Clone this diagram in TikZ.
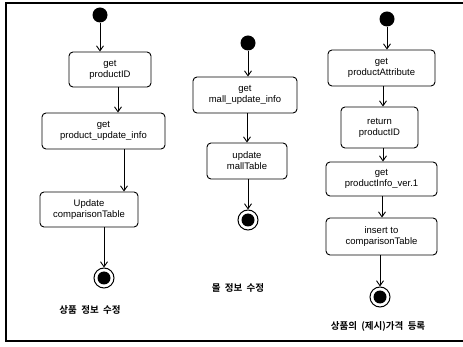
\documentclass[tikz,border=0pt]{standalone}
\usepackage{fontspec}
\setmainfont{Liberation Sans}
\newfontfamily\kr{Noto Sans CJK KR}[BoldFont={* Bold}]
\usetikzlibrary{arrows.meta}
\begin{document}
\begin{tikzpicture}[x=1pt,y=-1pt,
  act/.style={draw,rounded corners=4pt,line width=0.9pt,align=center,inner sep=1pt,
    font=\fontsize{9.5}{11}\selectfont, minimum height=36pt},
  start/.style={circle,fill=black,minimum size=15pt,inner sep=0pt},
  fin/.style={circle,draw,line width=1pt,minimum size=20pt,inner sep=0pt,
    path picture={\fill[black] (path picture bounding box.center) circle (6.5pt);}},
  arr/.style={line width=0.9pt,-{Straight Barb[length=5pt,width=7pt,line width=0.9pt]}},
  lbl/.style={font=\kr\bfseries\fontsize{9.5}{11}\selectfont}]
\useasboundingbox (0,0) rectangle (463,347);
\draw[line width=1.1pt] (480,3) -- (6,3) -- (6,341) -- (480,341);
% column 1
\node[start] (i1) at (100,15) {};
\node[act,minimum width=82pt,minimum height=35pt] (a1) at (110,69.5) {get\\productID};
\node[act,minimum width=123pt] (a2) at (103.5,131) {get\\product\_update\_info};
\node[act,minimum width=98pt,minimum height=35pt] (a3) at (89,209.5) {Update\\comparisonTable};
\node[fin] (f1) at (104,278) {};
\node[lbl] (l1) at (90,310) {상품\ \ 정보\ \ 수정};
\draw[arr] (i1.south) -- (i1.south |- a1.north);
\draw[arr] (118,0 |- a1.south) coordinate (p1) -- (p1 |- a2.north);
\draw[arr] (124,0 |- a2.south) coordinate (p2) -- (p2 |- a3.north);
\draw[arr] (a3.south -| f1) -- (f1);
% column 2
\node[start] (i2) at (248,43) {};
\node[act,minimum width=104pt] (b1) at (245,95) {get\\mall\_update\_info};
\node[act,minimum width=80pt] (b2) at (247,161) {update\\mallTable};
\node[fin] (f2) at (248,220) {};
\node[lbl] (l2) at (238,288) {몰\ \ 정보\ \ 수정};
\draw[arr] (i2.south) -- (i2.south |- b1.north);
\draw[arr] (247,0 |- b1.south) coordinate (q1) -- (q1 |- b2.north);
\draw[arr] (b2.south -| f2) -- (f2);
% column 3
\node[start] (i3) at (387,19) {};
\node[act,minimum width=107pt] (c1) at (381.5,68) {get\\productAttribute};
\node[act,minimum width=77pt,minimum height=41pt] (c2) at (379.5,127.5) {return\\productID};
\node[act,minimum width=111pt,minimum height=34pt] (c3) at (381.5,179) {get\\productInfo\_ver.1};
\node[act,minimum width=111pt,minimum height=37pt] (c4) at (381.5,236.5) {insert to\\comparisonTable};
\node[fin] (f3) at (380,297) {};
\node[lbl] (l3) at (378,326) {상품의\ \ (제시)가격\ \ 등록};
\draw[arr] (i3.south) -- (i3.south |- c1.north);
\draw[arr] (383,0 |- c1.south) coordinate (r1) -- (r1 |- c2.north);
\draw[arr] (383,0 |- c2.south) coordinate (r2) -- (r2 |- c3.north);
\draw[arr] (382,0 |- c3.south) coordinate (r3) -- (r3 |- c4.north);
\draw[arr] (c4.south -| f3) -- (f3);
\end{tikzpicture}
\end{document}
